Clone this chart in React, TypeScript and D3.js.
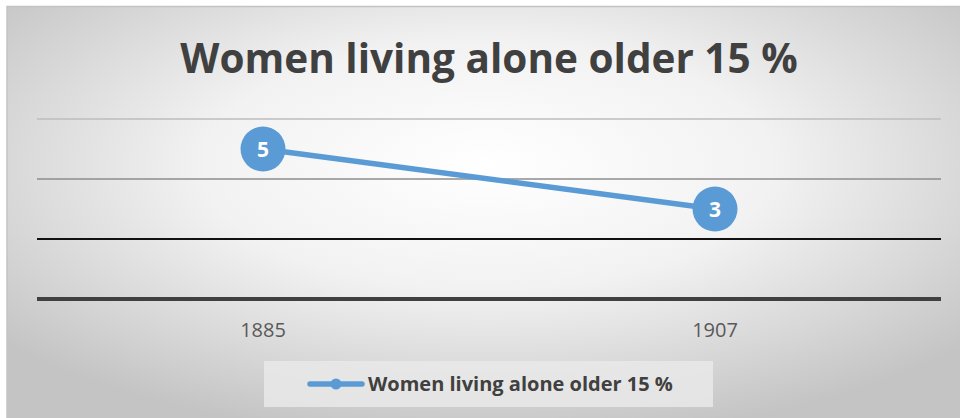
import React from "react";
import * as d3 from "d3";

const categories = ["1885", "1907"];
const values = [5, 3];
const yTicks = [0, 2, 4, 6];
const seriesName = "Women living alone older 15 %";
const title = "Women living alone older 15 %";

const W = 960;
const H = 418;
const plotLeft = 37;
const plotRight = 941;
const plotTop = 119;
const plotBottom = 299;
const blue = "#5B9BD5";
const font = "'Open Sans', 'Liberation Sans', sans-serif";

const gridStyle: Record<number, { stroke: string; width: number }> = {
  0: { stroke: "#404040", width: 4 },
  2: { stroke: "#111111", width: 2 },
  4: { stroke: "#8c8c8c", width: 1.5 },
  6: { stroke: "#bdbdbd", width: 1.5 },
};

export default function App() {
  const x = d3.scaleBand<string>().domain(categories).range([plotLeft, plotRight]);
  const y = d3.scaleLinear().domain([0, 6]).range([plotBottom, plotTop]);
  const cx = (c: string) => (x(c) as number) + x.bandwidth() / 2;
  const line = d3
    .line<number>()
    .x((_, i) => cx(categories[i]))
    .y((d) => y(d));

  return (
    <svg
      width={W}
      height={H}
      style={{ position: "absolute", left: 0, top: 0, display: "block" }}
    >
      <defs>
        <radialGradient id="bg" cx="0.5" cy="0.38" r="0.66" fx="0.5" fy="0.38">
          <stop offset="0%" stopColor="#ffffff" />
          <stop offset="45%" stopColor="#f2f2f2" />
          <stop offset="100%" stopColor="#c4c4c4" />
        </radialGradient>
      </defs>
      <rect x={0} y={0} width={W} height={H} fill="#ffffff" />
      <rect
        x={7}
        y={6.5}
        width={W}
        height={H}
        fill="url(#bg)"
        stroke="#c3c3c3"
        strokeWidth={1.5}
      />
      <text
        x={489}
        y={73}
        textAnchor="middle"
        fontFamily={font}
        fontWeight="bold"
        fontSize={40.5}
        fill="#404040"
      >
        {title}
      </text>
      {yTicks.map((t) => (
        <line
          key={t}
          x1={plotLeft}
          x2={plotRight}
          y1={y(t)}
          y2={y(t)}
          stroke={gridStyle[t].stroke}
          strokeWidth={gridStyle[t].width}
        />
      ))}
      {categories.map((c) => (
        <text
          key={c}
          x={cx(c)}
          y={337}
          textAnchor="middle"
          fontFamily={font}
          fontSize={20}
          fill="#595959"
        >
          {c}
        </text>
      ))}
      <path d={line(values) || ""} fill="none" stroke={blue} strokeWidth={5.5} strokeLinecap="round" />
      {values.map((v, i) => (
        <g key={i}>
          <circle cx={cx(categories[i])} cy={y(v)} r={22.5} fill={blue} />
          <text
            x={cx(categories[i])}
            y={y(v) + 7.5}
            textAnchor="middle"
            fontFamily={font}
            fontWeight="bold"
            fontSize={21}
            fill="#ffffff"
          >
            {v}
          </text>
        </g>
      ))}
      <rect x={264} y={361} width={449} height={46} fill="#e9e9e9" opacity={0.85} />
      <line x1={310} x2={362} y1={384} y2={384} stroke={blue} strokeWidth={5.5} strokeLinecap="round" />
      <circle cx={336} cy={384} r={5.5} fill={blue} />
      <text
        x={368}
        y={391}
        fontFamily={font}
        fontWeight="bold"
        fontSize={20}
        fill="#404040"
      >
        {seriesName}
      </text>
    </svg>
  );
}
